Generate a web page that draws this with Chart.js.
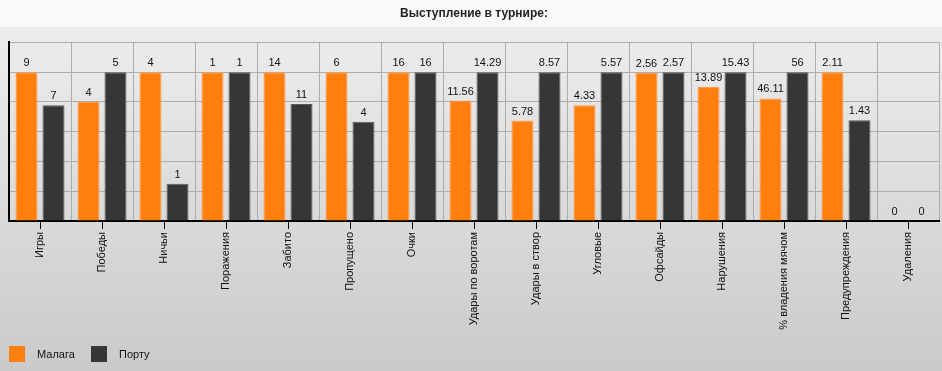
<!DOCTYPE html>
<html>
<head>
<meta charset="utf-8">
<script src="https://cdn.jsdelivr.net/npm/chart.js@4"></script>
<style>
  body { margin: 0; background: #fff; }
  canvas { display: block; }
</style>
</head>
<body>
<canvas id="chart" width="942" height="371"></canvas>
<script>
// === Data ===
const categories = ['Игры', 'Победы', 'Ничьи', 'Поражения', 'Забито', 'Пропущено', 'Очки',
  'Удары по воротам', 'Удары в створ', 'Угловые', 'Офсайды', 'Нарушения',
  '% владения мячом', 'Предупреждения', 'Удаления'];
const teamNames = ['Малага', 'Порту'];
const malaga = [9, 4, 4, 1, 14, 6, 16, 11.56, 5.78, 4.33, 2.56, 13.89, 46.11, 2.11, 0];
const porto  = [7, 5, 1, 1, 11, 4, 16, 14.29, 8.57, 5.57, 2.57, 15.43, 56, 1.43, 0];

const FONT = '"Liberation Sans", Arial, sans-serif';

// bars are shown relative to the bigger value of the pair (100 = max)
function relative(a, b) {
  return a.map((v, i) => {
    const m = Math.max(a[i], b[i]);
    return m === 0 ? 0 : v / m * 100;
  });
}

// === Plugins ===
const backdrop = {
  id: 'backdrop',
  beforeDraw(chart) {
    const { ctx, width, height } = chart;
    ctx.save();
    const g = ctx.createLinearGradient(0, 27, 0, height);
    g.addColorStop(0, '#ededed');
    g.addColorStop(1, '#cacaca');
    ctx.fillStyle = g;
    ctx.fillRect(0, 27, width, height - 27);
    ctx.fillStyle = '#f9f9f9';
    ctx.fillRect(0, 0, width, 27);
    ctx.restore();
  }
};

const valueLabels = {
  id: 'valueLabels',
  afterDatasetsDraw(chart) {
    const { ctx } = chart;
    const raw = [malaga, porto];
    ctx.save();
    ctx.font = '11px ' + FONT;
    ctx.fillStyle = '#111';
    ctx.textAlign = 'center';
    ctx.textBaseline = 'alphabetic';
    chart.data.datasets.forEach((ds, di) => {
      chart.getDatasetMeta(di).data.forEach((bar, i) => {
        ctx.fillText(String(raw[di][i]), bar.x, bar.y - 6);
      });
    });
    ctx.restore();
  }
};

const centerTicks = {
  id: 'centerTicks',
  afterDraw(chart) {
    const { ctx } = chart;
    const x = chart.scales.x;
    ctx.save();
    ctx.strokeStyle = '#000';
    ctx.lineWidth = 1;
    categories.forEach((c, i) => {
      const px = Math.round(x.getPixelForValue(i)) + 0.5;
      ctx.beginPath();
      ctx.moveTo(px, x.top);
      ctx.lineTo(px, x.top + 8);
      ctx.stroke();
    });
    ctx.restore();
  }
};

const bottomLegend = {
  id: 'bottomLegend',
  afterDraw(chart) {
    const { ctx } = chart;
    const xs = [9, 91];
    ctx.save();
    ctx.font = '11px ' + FONT;
    ctx.textBaseline = 'middle';
    ctx.textAlign = 'left';
    chart.data.datasets.forEach((ds, i) => {
      ctx.fillStyle = ds.backgroundColor;
      ctx.fillRect(xs[i], 346, 16, 16);
      ctx.fillStyle = '#111';
      ctx.fillText(ds.label, xs[i] + 28, 355);
    });
    ctx.restore();
  }
};

// === Chart ===
new Chart(document.getElementById('chart'), {
  type: 'bar',
  data: {
    labels: categories,
    datasets: [
      { label: teamNames[0], data: relative(malaga, porto), backgroundColor: '#ff7f0e', borderColor: '#ff9a45', borderWidth: 1 },
      { label: teamNames[1], data: relative(porto, malaga), backgroundColor: '#363636', borderColor: '#595959', borderWidth: 1 }
    ]
  },
  options: {
    responsive: false,
    animation: false,
    events: [],
    categoryPercentage: 0.871,
    barPercentage: 0.815,
    layout: { padding: { left: 9, right: 3, top: 0, bottom: 0 } },
    plugins: {
      legend: { display: false },
      tooltip: { enabled: false },
      title: {
        display: true,
        text: 'Выступление в турнире:',
        color: '#222',
        font: { family: FONT, size: 12, weight: 'bold' },
        padding: { top: 6, bottom: 22 }
      }
    },
    scales: {
      y: {
        min: 0, max: 120,
        ticks: { display: false, stepSize: 20 },
        grid: { color: '#adadad', drawTicks: false },
        border: { color: '#000', width: 2 },
        afterFit: s => { s.width = 0; }
      },
      x: {
        grid: { color: '#adadad', drawTicks: false, offset: true },
        border: { color: '#000', width: 2 },
        ticks: {
          color: '#111',
          font: { family: FONT, size: 11 },
          minRotation: 90, maxRotation: 90,
          padding: 11,
          autoSkip: false
        },
        afterFit: s => { s.height = 150; }
      }
    }
  },
  plugins: [backdrop, valueLabels, centerTicks, bottomLegend]
});
</script>
</body>
</html>
